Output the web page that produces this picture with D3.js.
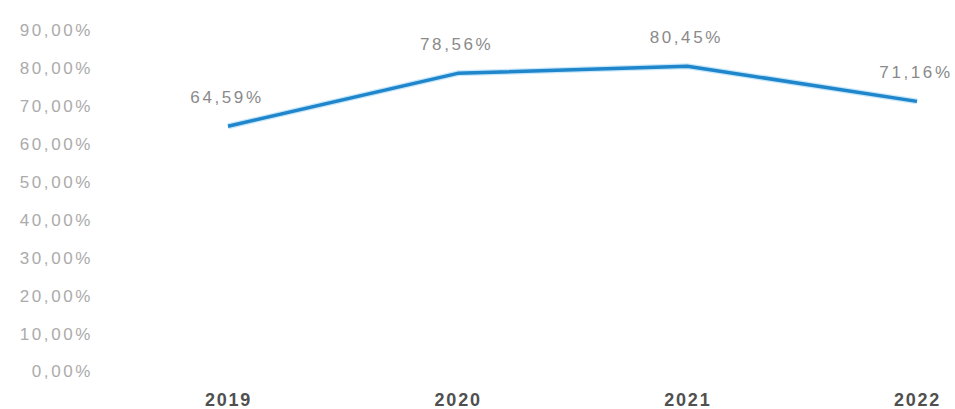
<!DOCTYPE html>
<html><head><meta charset="utf-8">
<script src="https://cdn.jsdelivr.net/npm/d3@7"></script>
<style>body{margin:0;background:#fff;}svg{display:block;}</style>
</head><body>
<svg id="c" width="955" height="409"></svg>
<script>
const years = ["2019","2020","2021","2022"];
const values = [64.59, 78.56, 80.45, 71.16];
const yTicks = [0,10,20,30,40,50,60,70,80,90];

const svg = d3.select("#c");
const x = d3.scalePoint().domain(years).range([228, 917]);
const y = d3.scaleLinear().domain([0, 90]).range([371, 30]);
const fmt = v => v.toFixed(2).replace(".", ",") + "%";

// y axis labels
const yAxis = d3.axisLeft(y).tickValues(yTicks).tickFormat(fmt).tickSize(0).tickPadding(0);
const ga = svg.append("g").attr("transform", "translate(93,0)").call(yAxis);
ga.select(".domain").remove();
ga.selectAll("text")
  .attr("font-family", "Liberation Sans, Arial, sans-serif")
  .attr("font-size", 17).attr("fill", "#ababab")
  .attr("letter-spacing", "2.6px")
  .attr("dy", "0.35em");

// x axis labels
const xAxis = d3.axisBottom(x).tickSize(0).tickPadding(0);
const gx = svg.append("g").attr("transform", "translate(0,391)").call(xAxis);
gx.select(".domain").remove();
gx.selectAll("text")
  .attr("font-family", "Liberation Sans, Arial, sans-serif")
  .attr("font-size", 18).attr("font-weight", "bold").attr("fill", "#505050")
  .attr("letter-spacing", "1.8px")
  .attr("dy", "0.85em");

// line
const data = years.map((d,i)=>({year:d, v:values[i]}));
const line = d3.line().x(d=>x(d.year)).y(d=>y(d.v));
svg.append("path").datum(data).attr("d", line)
  .attr("fill","none").attr("stroke","#8fd0f5").attr("stroke-width",6).attr("stroke-opacity",0.5)
  .attr("stroke-linejoin","round");
svg.append("path").datum(data).attr("d", line)
  .attr("fill","none").attr("stroke","#1f86cc").attr("stroke-width",3.5)
  .attr("stroke-linejoin","round").attr("stroke-linecap","butt");

// data labels
svg.append("g").selectAll("text").data(data).join("text")
  .attr("x", d=>x(d.year) - 1)
  .attr("y", d=>y(d.v) - 29)
  .attr("dy","0.35em")
  .attr("text-anchor","middle")
  .attr("font-family", "Liberation Sans, Arial, sans-serif")
  .attr("font-size", 17).attr("fill","#8a8a8a")
  .attr("letter-spacing", "2.6px")
  .text(d=>fmt(d.v));
</script>
</body></html>
